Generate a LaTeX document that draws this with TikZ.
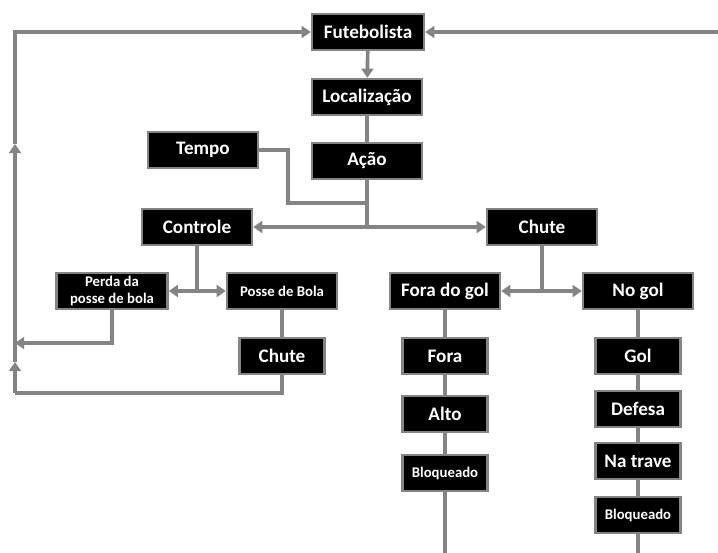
\documentclass[tikz,border=0pt]{standalone}
\usepackage{fontspec}
\setmainfont{Carlito}
\usetikzlibrary{arrows.meta,shadows}

\definecolor{linegray}{RGB}{132,132,132}
\tikzset{
  box/.style={fill=black, draw=linegray, line width=1.7pt, text=white,
    font=\bfseries\fontsize{13.6}{15}\selectfont, inner sep=1pt,
    minimum width=2.75cm, minimum height=0.9cm,
    drop shadow={opacity=0.25, shadow xshift=0.6pt, shadow yshift=-0.6pt}},
  narrowbox/.style={box, minimum width=2.12cm},
  smalltext/.style={font=\bfseries\fontsize{10.5}{11.5}\selectfont},
  link/.style={draw=linegray, line width=2.6pt},
  arrowlink/.style={link, -{Triangle[length=6.5pt,width=8.5pt]}},
}

\begin{document}
\begin{tikzpicture}[x=0.025cm,y=-0.025cm]
    \useasboundingbox (0,0) rectangle (718,553);

    % top column
    \node[box, minimum width=2.8cm] (fut) at (368,32) {Futebolista};
    \node[box] (loc) at (367,97) {Localização};
    \node[box] (acao) at (367,161) {Ação};
    \node[box] (tempo) at (203,150) {Tempo};
    \node[box] (ctrl) at (197,227) {Controle};
    \node[box] (chuteA) at (542,227) {Chute};

    % controle branch
    \node[box, smalltext, align=center, minimum width=2.78cm] (perda) at (112,291) {Perda da\\posse de bola};
    \node[box, smalltext] (posse) at (282,291) {Posse de Bola};
    \node[narrowbox] (chuteB) at (282,356) {Chute};

    % chute branch
    \node[box] (fdg) at (445,291) {Fora do gol};
    \node[box] (nogol) at (638,291) {No gol};
    \node[narrowbox] (fora) at (445,356) {Fora};
    \node[narrowbox] (alto) at (445,414) {Alto};
    \node[narrowbox, smalltext] (bloqA) at (445,473) {Bloqueado};
    \node[narrowbox] (gol) at (638,356) {Gol};
    \node[narrowbox] (defesa) at (638,409) {Defesa};
    \node[narrowbox] (trave) at (638,461) {Na trave};
    \node[narrowbox, smalltext] (bloqB) at (638,515) {Bloqueado};

    \coordinate (join) at (367,203);
    \coordinate (split) at (acao.south |- ctrl.east);
    \coordinate (splitC) at (ctrl.south |- perda.east);
    \coordinate (splitS) at (chuteA.south |- fdg.east);
    \coordinate (back) at (15,343);
    \coordinate (loopA) at (15,393);
    \coordinate (loopB) at (15,32);
    \coordinate (rightin) at (718,32);
    \coordinate (endA) at (445,553);
    \coordinate (endB) at (638,553);

    % connectors
    \draw[arrowlink] (fut) -- (loc);
    \draw[link] (loc) -- (acao);
    \draw[link] (tempo.east) -- (288,150) -- (288,203) -- (join);
    \draw[link] (acao.south) -- (split);
    \draw[arrowlink] (split) -- (ctrl.east);
    \draw[arrowlink] (split) -- (chuteA.west);

    \draw[link] (ctrl.south) -- (splitC);
    \draw[arrowlink] (splitC) -- (perda.east);
    \draw[arrowlink] (splitC) -- (posse.west);
    \draw[arrowlink] (perda.south) |- (back);
    \draw[link] (posse) -- (chuteB);

    % loop back to the top
    \draw[link] (chuteB.south) |- (loopA);
    \draw[arrowlink] (loopA) -- (15,362);
    \draw[arrowlink] (15,362) -- (15,144);
    \draw[arrowlink] (15,144) -- (loopB) -- (fut.west);
    \draw[arrowlink] (rightin) -- (fut.east);

    \draw[link] (chuteA.south) -- (splitS);
    \draw[arrowlink] (splitS) -- (fdg.east);
    \draw[arrowlink] (splitS) -- (nogol.west);

    \draw[link] (fdg) -- (fora) -- (alto) -- (bloqA) -- (endA);
    \draw[link] (nogol) -- (gol) -- (defesa) -- (trave) -- (bloqB) -- (endB);
\end{tikzpicture}
\end{document}
